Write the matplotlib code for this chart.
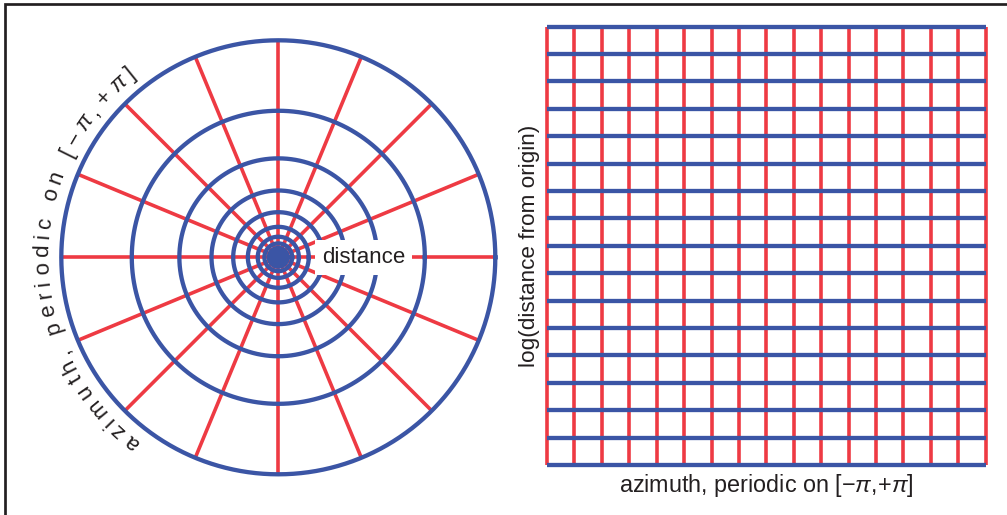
import numpy as np
import matplotlib.pyplot as plt
from matplotlib.lines import Line2D
from matplotlib.textpath import TextToPath
from matplotlib.font_manager import FontProperties

plt.rcParams['font.family'] = ['Liberation Sans', 'DejaVu Sans']
plt.rcParams['mathtext.fontset'] = 'custom'
plt.rcParams['mathtext.rm'] = 'Liberation Sans'
plt.rcParams['mathtext.it'] = 'Liberation Sans:italic'

# --- grid of the log-polar map: 16 steps per turn ---
azimuth_lines = np.arange(-8, 9) * np.pi / 8          # [-pi, +pi]
log_dist_lines = -np.arange(0, 17) * np.pi / 8        # log r from 0 to -2pi
ring_radii = np.exp(log_dist_lines)

curve_label = "azimuth, periodic on [\u2212\u03c0,+\u03c0]"
flat_xlabel = r"azimuth, periodic on $[-\pi,\!{+}\pi]$"
flat_ylabel = "log(distance from origin)"
centre_label = "distance"

BLUE = '#3b55a5'
RED = '#ee3a43'
INK = '#231f20'
LW_BLUE, LW_RED = 3.1, 2.6

W, H, DPI = 1007, 515, 100
fig = plt.figure(figsize=(W / DPI, H / DPI), dpi=DPI)

# --- left: circles and spokes, 1 data unit = outer radius ---
R_px = 217.0
cx, cy = 278.3, 257.3          # centre in pixels from top-left
left_w = 556.0
ax = fig.add_axes([0, 0, left_w / W, 1])
ax.set_xlim(-cx / R_px, (left_w - cx) / R_px)
ax.set_ylim(-(H - cy) / R_px, cy / R_px)
ax.axis('off')

for a in azimuth_lines[:-1]:
    ax.plot([0, np.cos(a)], [0, np.sin(a)], color=RED, lw=LW_RED,
            solid_capstyle='butt', zorder=1)

t = np.linspace(0, 2 * np.pi, 721)
for r in ring_radii:
    ax.plot(r * np.cos(t), r * np.sin(t), color=BLUE, lw=LW_BLUE, zorder=2)

ax.text(0.393, 0.0, centre_label, fontsize=16, color=INK,
        ha='center', va='center', zorder=5,
        bbox=dict(boxstyle='square,pad=0.32', fc='white', ec='none'))

# curved label around the outer circle, reading clockwise
fs = 16
r_base = 230.0
th_start, th_end = np.radians(231.5), np.radians(128.8)
tp = TextToPath()
widths = []
for ch in curve_label:
    prop = FontProperties(family='Liberation Sans', size=fs,
                          style='italic' if ch == '\u03c0' else 'normal')
    w, _, _ = tp.get_text_width_height_descent(ch, prop, ismath=False)
    if ch == ' ':
        w = fs * 0.278
    widths.append(w * DPI / 72.0)
widths = np.array(widths)
arc_total = (th_start - th_end) * r_base
base_len = widths.sum() - widths[0] / 2 - widths[-1] / 2
track = (arc_total - base_len) / (len(curve_label) - 1)
s = 0.0
for i, ch in enumerate(curve_label):
    if i > 0:
        s += widths[i - 1] / 2 + widths[i] / 2 + track
    th = th_start - s / r_base
    x = r_base * np.cos(th) / R_px
    y = r_base * np.sin(th) / R_px
    ax.text(x, y, ch, fontsize=fs, color=INK, rotation=np.degrees(th) - 90,
            rotation_mode='anchor', ha='center', va='baseline',
            fontstyle='italic' if ch == '\u03c0' else 'normal')

# --- right: the same grid in (azimuth, log distance) ---
gx0, gx1 = 547.0, 985.7
gy0, gy1 = 26.7, 465.0
ax2 = fig.add_axes([gx0 / W, (H - gy1) / H, (gx1 - gx0) / W, (gy1 - gy0) / H])
ax2.set_xlim(-np.pi, np.pi)
ax2.set_ylim(-2 * np.pi, 0)
ax2.vlines(azimuth_lines, -2 * np.pi, 0, color=RED, lw=LW_RED,
           clip_on=False, zorder=1)
ax2.hlines(log_dist_lines, -np.pi, np.pi, color=BLUE, lw=LW_BLUE,
           clip_on=False, zorder=2)
for sp in ax2.spines.values():
    sp.set_visible(False)
ax2.set_xticks([])
ax2.set_yticks([])
ax2.set_xlabel(flat_xlabel, fontsize=16.8, color=INK, labelpad=5)
ax2.set_ylabel(flat_ylabel, fontsize=16.2, color=INK, labelpad=5)

# frame on the left and top edges
fx = 4.7 / W
fy = 1 - 3.8 / H
fig.add_artist(Line2D([fx, fx, 1.0], [0.0, fy, fy], transform=fig.transFigure,
                      color=INK, lw=1.95, solid_joinstyle='miter'))

fig.savefig('out.png', dpi=DPI)
